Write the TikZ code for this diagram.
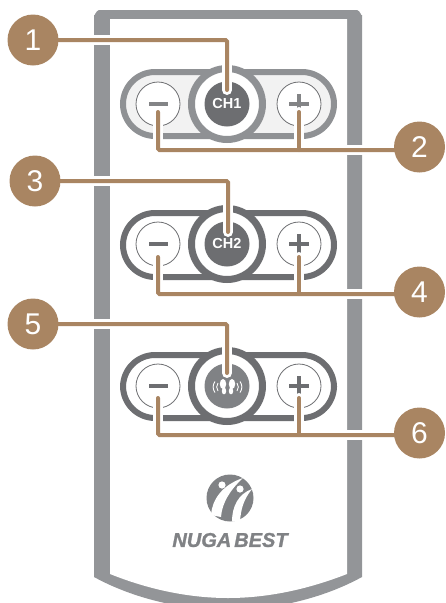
\documentclass[tikz,border=0pt]{standalone}
\usepackage{fontspec}
\setmainfont{Liberation Sans}
\newfontface\brandface{Liberation Sans Bold Italic}[FakeBold=1.2]
\usetikzlibrary{positioning}
\definecolor{bodygray}{HTML}{939598}
\definecolor{keygray}{HTML}{6D6E71}
\definecolor{lightkey}{HTML}{8F9194}
\definecolor{softgray}{HTML}{808285}
\definecolor{tan}{HTML}{A98562}
\pgfdeclarelayer{back}
\pgfsetlayers{back,main}
\tikzset{
  callout/.style={circle, fill=tan, text=white, minimum size=51pt, inner sep=0pt, font=\fontsize{30}{30}\selectfont},
  halo/.style={white, line width=10pt, line cap=round},
  lead/.style={tan, line width=4pt, line cap=round, rounded corners=1.5pt},
  pill/.style={line width=6pt, rounded corners=32pt},
  smallkey/.style={circle, draw=keygray, fill=white, line width=0.8pt, minimum size=44pt, inner sep=0pt},
  keysign/.style={line width=4.5pt},
  ring/.style={circle, fill=white, line width=7pt, minimum size=71pt, inner sep=0pt},
  disk/.style={circle, minimum size=45pt, inner sep=0pt},
  chlabel/.style={text=white, font=\fontsize{14.5}{14.5}\selectfont\bfseries}
}
\begin{document}
\begin{tikzpicture}[x=1pt,y=-1pt]
\useasboundingbox (0,0) rectangle (445,603);

% callouts
\node[callout] (one) at (33,40) {1};
\node[callout] (two) at (419.5,147) {2};
\node[callout] (three) at (35,181) {3};
\node[callout] (four) at (419.5,292) {4};
\node[callout] (five) at (33,324) {5};
\node[callout] (six) at (419.5,433) {6};

\begin{pgfonlayer}{back}
\begin{scope}
\clip (0,0) rectangle (445,603);

% remote body
\fill[bodygray] (94,577) -- (94,15) to[out=-90,in=180] (99,10) -- (357,10) to[out=0,in=-90] (362,15)
  -- (362,577) .. controls (320,600) and (270,610) .. (228,610) .. controls (186,610) and (136,600) .. (94,577) -- cycle;
\fill[white] (110,19) -- (347,19) -- (347,574) .. controls (306,590) and (266,598) .. (228,598)
  .. controls (190,598) and (150,590) .. (110,574) -- cycle;

% first row
\draw[pill, lightkey, fill=black!5] (123,72) rectangle (334,136);
\node[smallkey] (minusa) at (158,104) {};
\node[smallkey] (plusa) at (299,104) {};
\draw[keysign, keygray!85!white] (149,104) -- (168,104);
\draw[keysign, keygray!85!white] (289,104) -- (309,104) (299,94) -- (299,114);
\node[ring, draw=lightkey] (ringa) at (227,104) {};
\node[disk, fill=keygray, chlabel] (cha) at (227,104) {CH1};

% second row
\draw[pill, keygray, fill=white] (123,213) rectangle (334,277);
\node[smallkey] (minusb) at (158,244) {};
\node[smallkey] (plusb) at (299,244) {};
\draw[keysign, keygray] (149,244) -- (168,244);
\draw[keysign, keygray] (289,244) -- (309,244) (299,234) -- (299,254);
\node[ring, draw=keygray] (ringb) at (227,244) {};
\node[disk, fill=keygray, chlabel] (chb) at (227,244) {CH2};

% third row
\draw[pill, keygray, fill=white] (123,355) rectangle (334,418);
\node[smallkey] (minusc) at (158,386) {};
\node[smallkey] (plusc) at (299,386) {};
\draw[keysign, keygray] (149,386) -- (168,386);
\draw[keysign, keygray] (289,386) -- (309,386) (299,376) -- (299,396);
\node[ring, draw=keygray] (ringc) at (227,386) {};
\node[disk, fill=softgray] (feet) at (227,386) {};

% feet icon
\fill[white] (223,384) ellipse [x radius=3.2, y radius=5];
\fill[white] (224,391) ellipse [x radius=2.2, y radius=3.4];
\fill[white] (232,384) ellipse [x radius=3.2, y radius=5];
\fill[white] (231,391) ellipse [x radius=2.2, y radius=3.4];
\draw[white, line width=0.9pt] (218,383) to[bend right=35] (218,391) (215,381.5) to[bend right=35] (215,392.5);
\draw[white, line width=0.9pt] (237,383) to[bend left=35] (237,391) (240,381.5) to[bend left=35] (240,392.5);

% logo
\fill[softgray] (230,498) circle [radius=23.5];
\fill[white] (211,515) .. controls (212,500) and (222,485) .. (243,478) .. controls (230,490) and (222,503) .. (221,517) -- cycle;
\fill[white] (232,521.5) .. controls (232,507) and (238,494) .. (252,489) .. controls (243,500) and (241,510) .. (240,521) -- cycle;
\fill[white] (222,485) circle [radius=3.6];
\fill[white] (240,489) circle [radius=3.6];
\node[softgray, inner sep=0pt, font=\fontsize{20}{20}\brandface] (brand) at (230,540) {NUGA\hspace{3pt}BEST};

\coordinate (enda) at (227,90);
\coordinate (endb) at (228,232);
\coordinate (endc) at (227,373);
\coordinate (mina) at (158,112);
\coordinate (pla) at (299,112);
\coordinate (joina) at (299,150);
\coordinate (minb) at (158,257);
\coordinate (plb) at (299,257);
\coordinate (joinb) at (299,294);
\coordinate (minc) at (158,398);
\coordinate (plc) at (299,398);
\coordinate (joinc) at (299,435);

% white gaps under the leader lines
\draw[halo] (one) -| (enda);
\draw[halo] (three) -| (endb);
\draw[halo] (five) -| (endc);
\draw[halo] (two |- joina) -| (mina);
\draw[halo] (joina) -- (pla);
\draw[halo] (four |- joinb) -| (minb);
\draw[halo] (joinb) -- (plb);
\draw[halo] (six |- joinc) -| (minc);
\draw[halo] (joinc) -- (plc);

% leader lines
\draw[lead] (one) -| (enda);
\draw[lead] (three) -| (endb);
\draw[lead] (five) -| (endc);
\draw[lead] (two |- joina) -| (mina);
\draw[lead] (joina) -- (pla);
\draw[lead] (four |- joinb) -| (minb);
\draw[lead] (joinb) -- (plb);
\draw[lead] (six |- joinc) -| (minc);
\draw[lead] (joinc) -- (plc);
\end{scope}
\end{pgfonlayer}
\end{tikzpicture}
\end{document}
